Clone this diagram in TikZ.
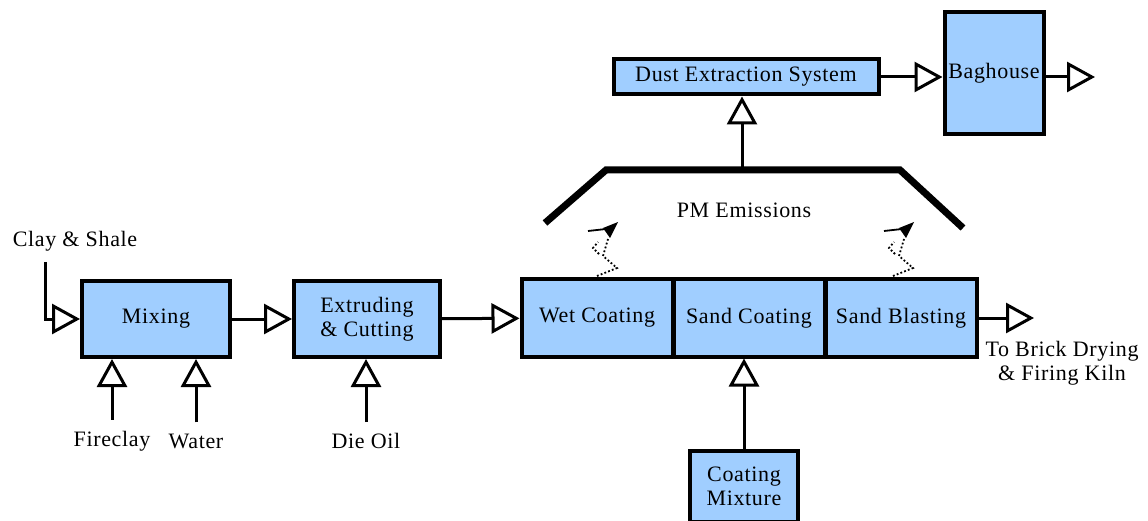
\documentclass[tikz,border=0pt]{standalone}
\usepackage{fontspec}
\setmainfont{Liberation Serif}[LetterSpace=3]
\usetikzlibrary{arrows.meta,positioning}
\definecolor{boxblue}{RGB}{160,206,255}
% little puff of dust rising from a process
\tikzset{emission/.pic={
    \draw[line width=1.8pt, dash pattern=on 1.8pt off 2.2pt] (0,0) -- (20,-8) -- (6,-20) -- (11,-37);
    \draw[line width=1.8pt, dash pattern=on 1.8pt off 2.2pt] (2,-22) -- (-4,-28) -- (1,-34);
    \draw[line width=1.8pt] (-9,-45) -- (9,-47);
    \fill (6,-48) -- (21,-54) -- (13,-38) -- cycle;
}}

\begin{document}
\begin{tikzpicture}[x=1pt, y=-1pt, font=\fontsize{22}{24}\selectfont,
    process/.style={draw, line width=4pt, fill=boxblue, align=center, inner sep=2pt},
    flow/.style={line width=3pt, -{Triangle[open, length=28pt, width=30pt, line width=3pt]}},
    feed/.style={align=center, inner sep=1pt}]
    \useasboundingbox (0,0) rectangle (1148,521);

    \node[process, minimum width=148pt, minimum height=76pt] (mix) at (156,319) {Mixing};
    \node[process, minimum width=146pt, minimum height=76pt] (ext) at (367,319) {Extruding\\\& Cutting};
    \node[process, minimum width=151pt, minimum height=77pt] (wet) at (597,318) {Wet Coating};
    \node[process, minimum width=151pt, minimum height=77pt] (sand) [right=-3pt of wet] {Sand Coating};
    \node[process, minimum width=151pt, minimum height=77pt] (blast) [right=-3pt of sand] {Sand Blasting};
    \node[process, minimum width=265pt, minimum height=35pt] (dust) at (746,77) {Dust Extraction System};
    \node[process, minimum width=99pt, minimum height=122pt] (bag) at (994,73) {Baghouse};
    \node[process, minimum width=108pt, minimum height=71pt] (mixt) at (744,486) {Coating\\Mixture};

    \node[feed] (clay) at (75,241) {Clay \& Shale};
    \node[feed] (fire) at (112,441) {Fireclay};
    \node[feed] (water) at (196,441) {Water};
    \node[feed] (oil) at (366,441) {Die Oil};
    \node[feed] (kiln) at (1062,363) {\fontsize{22}{26}\selectfont To Brick Drying\\\& Firing Kiln};
    \node (pm) at (744,210) {PM Emissions};

    \coordinate (clayin) at (45,262);
    \coordinate (hood) at (742,170);
    \coordinate (kilnout) at (1034,318);
    \coordinate (stack) at (1095,77);

    % hood over the coating line
    \draw[line width=7pt] (545,223) -- (606,170) -- (900,170) -- (963,228);
    \pic at (597,276) {emission};
    \pic at (893,276) {emission};

    \path[flow]
        (clayin) edge[to path={|- (\tikztotarget)}] (mix.west)
        (fire) edge[shorten <=10pt] (fire |- mix.south)
        (water) edge[shorten <=10pt] (water |- mix.south)
        (mix) edge (ext)
        (oil) edge[shorten <=10pt] (oil |- ext.south)
        (ext) edge (wet)
        (blast) edge (kilnout)
        (mixt) edge (mixt |- sand.south)
        (hood) edge (hood |- dust.south)
        (dust) edge (bag.west |- dust)
        (bag.east |- dust) edge (stack);
\end{tikzpicture}
\end{document}
